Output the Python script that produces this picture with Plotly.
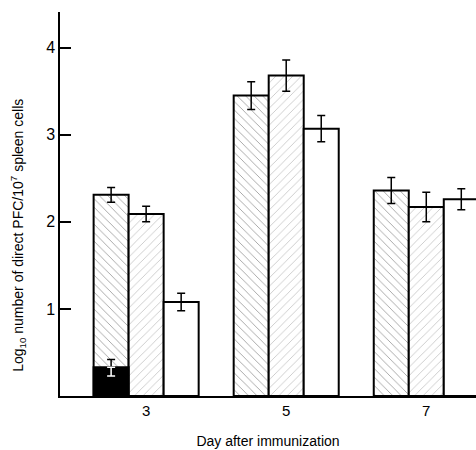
import plotly.graph_objects as go

days = [3, 5, 7]
offsets = [-0.5, 0.0, 0.5]
series_a = [2.31, 3.45, 2.36]
err_a = [0.085, 0.16, 0.15]
series_b = [2.09, 3.68, 2.17]
err_b = [0.09, 0.18, 0.17]
series_c = [1.08, 3.07, 2.26]
err_c = [0.10, 0.15, 0.12]
black_val = [0.33]
black_err_up = [0.09]
black_err_down = [0.10]

fig = go.Figure()

def xs(off):
    return [d + off for d in days]

common_line = dict(color="black", width=2)
fig.add_trace(go.Bar(
    x=xs(offsets[0]), y=series_a, width=0.5,
    marker=dict(color="white", line=common_line,
                pattern=dict(shape="\\", fgcolor="#444", bgcolor="white", size=6, solidity=0.15)),
    error_y=dict(type="data", array=err_a, color="black", thickness=1.5, width=4),
    showlegend=False))
fig.add_trace(go.Bar(
    x=xs(offsets[1]), y=series_b, width=0.5,
    marker=dict(color="white", line=common_line,
                pattern=dict(shape="/", fgcolor="#777", bgcolor="white", size=6, solidity=0.12)),
    error_y=dict(type="data", array=err_b, color="black", thickness=1.5, width=4),
    showlegend=False))
fig.add_trace(go.Bar(
    x=xs(offsets[2]), y=series_c, width=0.5,
    marker=dict(color="white", line=common_line),
    error_y=dict(type="data", array=err_c, color="black", thickness=1.5, width=4),
    showlegend=False))
# black inner bar on day 3
fig.add_trace(go.Bar(
    x=[days[0] + offsets[0]], y=black_val, width=0.5,
    marker=dict(color="black", line=common_line),
    error_y=dict(type="data", symmetric=False, array=black_err_up, arrayminus=[0],
                 color="black", thickness=1.5, width=4),
    showlegend=False))
fig.add_trace(go.Bar(
    x=[days[0] + offsets[0]], y=black_val, width=0.5,
    marker=dict(color="rgba(0,0,0,0)", line=dict(width=0)),
    error_y=dict(type="data", symmetric=False, array=[0], arrayminus=black_err_down,
                 color="white", thickness=1.5, width=4),
    showlegend=False))

fig.update_layout(
    barmode="overlay",
    width=476, height=450,
    margin=dict(l=60, r=0, t=12, b=54),
    paper_bgcolor="white", plot_bgcolor="white",
    font=dict(family="Liberation Sans, Arial, sans-serif", color="black"),
    annotations=[dict(
        text="Log<sub>10</sub> number of direct PFC/10<sup>7</sup> spleen cells",
        xref="paper", yref="paper", x=0, y=0.417, xanchor="center", yanchor="middle",
        xshift=-42, textangle=-90, showarrow=False, font=dict(size=14))],
)
fig.update_xaxes(
    range=[1.77, 7.71], tickvals=days, ticktext=[str(d) for d in days],
    showgrid=False, zeroline=False, showline=True, linecolor="black", linewidth=1.5,
    ticks="", tickfont=dict(size=15),
    title=dict(text="Day after immunization", font=dict(size=14), standoff=18),
)
fig.update_yaxes(
    range=[0, 4.41], tickvals=[1, 2, 3, 4], ticktext=["1", "2", "3", "4"],
    showgrid=False, zeroline=False, showline=True, linecolor="black", linewidth=1.5,
    ticks="inside", ticklen=11, tickwidth=1.5, tickcolor="black", tickfont=dict(size=16),
)

fig.write_html("out.html")
